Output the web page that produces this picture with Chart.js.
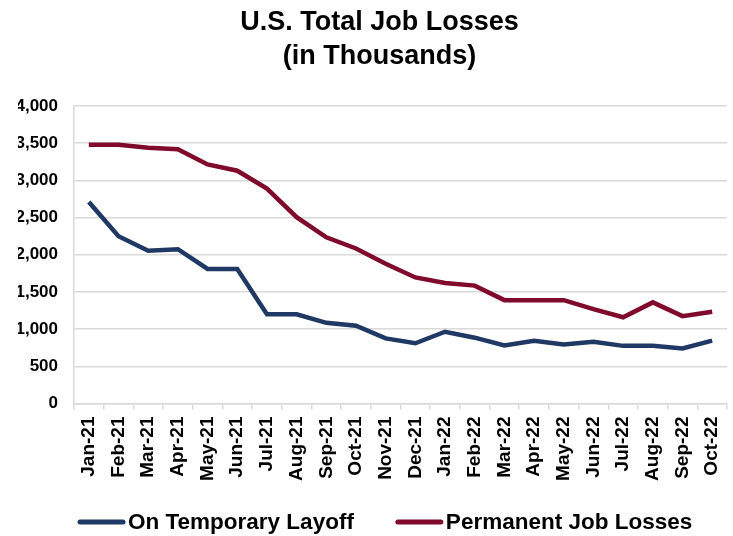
<!DOCTYPE html>
<html>
<head>
<meta charset="utf-8">
<script src="https://cdn.jsdelivr.net/npm/chart.js@4.4.0/dist/chart.umd.min.js"></script>
<style>
  html, body { margin: 0; padding: 0; background: #fff; overflow: hidden; }
  #wrap { width: 742px; height: 536px; }
</style>
</head>
<body>
<div id="wrap"><canvas id="jobChart" width="742" height="536"></canvas></div>
<script>
// U.S. total job losses, thousands
const months = ['Jan-21', 'Feb-21', 'Mar-21', 'Apr-21', 'May-21', 'Jun-21', 'Jul-21', 'Aug-21',
    'Sep-21', 'Oct-21', 'Nov-21', 'Dec-21', 'Jan-22', 'Feb-22', 'Mar-22', 'Apr-22', 'May-22',
    'Jun-22', 'Jul-22', 'Aug-22', 'Sep-22', 'Oct-22'];

const temporaryLayoff = [2710, 2250, 2055, 2075, 1810, 1810, 1200, 1200, 1085, 1045, 875, 810,
    965, 885, 780, 845, 795, 830, 775, 775, 740, 845];

const permanentLosses = [3480, 3480, 3440, 3420, 3215, 3130, 2890, 2505, 2235, 2085, 1880, 1695,
    1620, 1585, 1390, 1390, 1390, 1270, 1160, 1360, 1175, 1235];

const yTicks = [0, 500, 1000, 1500, 2000, 2500, 3000, 3500, 4000];

const COLORS = {
    blue: '#1f3864',
    red: '#7f0a2b',
    grid: '#d9d9d9',
    text: '#000000'
};

const FONT = "'Liberation Sans', Arial, sans-serif";

// Legend drawn by hand: line swatch sitting right against its label
const bottomLegend = {
    id: 'bottomLegend',
    afterDraw(chart) {
        const c = chart.ctx;
        let x = 78;
        const y = 522;
        c.save();
        c.font = 'bold 22.5px ' + FONT;
        c.textBaseline = 'middle';
        c.textAlign = 'left';
        chart.data.datasets.forEach(ds => {
            c.strokeStyle = ds.borderColor;
            c.lineWidth = 5;
            c.lineCap = 'round';
            c.beginPath();
            c.moveTo(x + 2, y);
            c.lineTo(x + 45, y);
            c.stroke();
            c.fillStyle = COLORS.text;
            c.fillText(ds.label, x + 50, y + 1);
            x += 50 + c.measureText(ds.label).width + 42;
        });
        c.restore();
    }
};

const ctx = document.getElementById('jobChart').getContext('2d');

new Chart(ctx, {
    type: 'line',
    data: {
        labels: months,
        datasets: [
            {
                label: 'On Temporary Layoff',
                data: temporaryLayoff,
                borderColor: COLORS.blue,
                backgroundColor: COLORS.blue,
                borderWidth: 4.5,
                pointRadius: 0,
                tension: 0
            },
            {
                label: 'Permanent Job Losses',
                data: permanentLosses,
                borderColor: COLORS.red,
                backgroundColor: COLORS.red,
                borderWidth: 4.5,
                pointRadius: 0,
                tension: 0
            }
        ]
    },
    options: {
        responsive: false,
        animation: false,
        layout: { padding: { left: 18, right: 1, top: 6, bottom: 40 } },
        plugins: {
            title: {
                display: true,
                text: ['U.S. Total Job Losses', '(in Thousands)'],
                color: COLORS.text,
                font: { family: FONT, size: 27, weight: 'bold', lineHeight: 1.26 },
                padding: { top: 0, bottom: 32 }
            },
            legend: { display: false },
            tooltip: { enabled: false }
        },
        scales: {
            x: {
                offset: true,
                afterFit: (axis) => { axis.height = 92.5; },
                grid: {
                    offset: true,
                    drawOnChartArea: false,
                    drawTicks: true,
                    tickLength: 6,
                    color: COLORS.grid,
                    lineWidth: 1.5
                },
                border: { color: COLORS.grid, width: 1.5 },
                ticks: {
                    color: COLORS.text,
                    font: { family: FONT, size: 19, weight: 'bold' },
                    minRotation: 90,
                    maxRotation: 90,
                    autoSkip: false,
                    padding: 7
                }
            },
            y: {
                min: 0,
                max: 4000,
                afterFit: (axis) => { axis.width = 56; },
                afterBuildTicks: (axis) => {
                    axis.ticks = yTicks.map(v => ({ value: v }));
                },
                grid: {
                    color: COLORS.grid,
                    lineWidth: 1.5,
                    drawTicks: false
                },
                border: { color: COLORS.grid, width: 1.5 },
                ticks: {
                    color: COLORS.text,
                    font: { family: FONT, size: 17, weight: 'bold' },
                    padding: 16,
                    callback: (v) => v.toLocaleString('en-US')
                }
            }
        }
    },
    plugins: [bottomLegend]
});
</script>
</body>
</html>
